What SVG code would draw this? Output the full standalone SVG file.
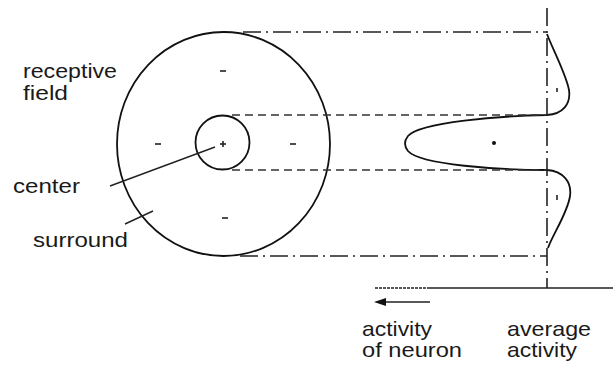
<svg xmlns="http://www.w3.org/2000/svg" width="613" height="365" viewBox="0 0 613 365">
<style>
.t{font-family:"Liberation Sans",Arial,sans-serif;font-size:21px;fill:#1a1a1a}
.s{fill:none;stroke:#111;stroke-width:1.8}
.th{fill:none;stroke:#222;stroke-width:1.4}
.dd{fill:none;stroke:#222;stroke-width:1.6;stroke-dasharray:18 5 2 5}
.da{fill:none;stroke:#333;stroke-width:1.6;stroke-dasharray:8 5}
.mk{stroke:#222;stroke-width:1.6}
</style>
<rect width="613" height="365" fill="#fff"/>
<g id="receptive-field">
<ellipse class="s" cx="223.5" cy="144" rx="106.5" ry="112"/>
<line class="mk" x1="220" y1="71" x2="226" y2="71"/>
<line class="mk" x1="155" y1="144" x2="161" y2="144"/>
<line class="mk" x1="290" y1="144" x2="296" y2="144"/>
<line class="mk" x1="222" y1="218" x2="228" y2="218"/>
</g>
<g id="center">
<circle class="s" cx="222.5" cy="142.5" r="27"/>
<line class="mk" x1="220" y1="144" x2="226" y2="144"/>
<line class="mk" x1="223" y1="141" x2="223" y2="147"/>
</g>
<g id="activity-curve">
<path class="s" d="M547,34 C553,50 566,74 569,90 C571,104 563,114 547,115 C500,116 420,122 408,136 C404,141 404,146 408,151 C420,165 500,170 547,170 C563,171 572,182 570,196 C568,212 552,236 548,248"/>
<circle cx="494" cy="143" r="2" fill="#111"/>
<line class="mk" x1="557" y1="88" x2="557" y2="92" stroke-width="1"/>
<line class="mk" x1="557" y1="195" x2="557" y2="200" stroke-width="1"/>
</g>
<g id="connectors">
<line class="dd" x1="243" y1="32" x2="547" y2="32"/>
<line class="dd" x1="240" y1="256" x2="547" y2="256"/>
<line class="da" x1="232" y1="115" x2="547" y2="115"/>
<line class="da" x1="232" y1="170" x2="547" y2="170"/>
<line class="dd" x1="547" y1="8" x2="547" y2="288" stroke-dasharray="14 4 3 4"/>
<line class="th" x1="375" y1="288" x2="430" y2="288" stroke="#888" stroke-dasharray="3 1"/>
<line class="th" x1="430" y1="288" x2="613" y2="288"/>
<line class="th" x1="430" y1="302" x2="383" y2="302"/>
<polygon points="374,302 386,298 386,306" fill="#111"/>
<line class="th" x1="215" y1="147" x2="110" y2="186"/>
<line class="th" x1="153" y1="211" x2="125" y2="224"/>
</g>
<g id="labels">
<text class="t" x="23" y="78" textLength="94" lengthAdjust="spacingAndGlyphs">receptive</text>
<text class="t" x="23" y="100" textLength="45" lengthAdjust="spacingAndGlyphs">field</text>
<text class="t" x="13" y="193" textLength="67" lengthAdjust="spacingAndGlyphs">center</text>
<text class="t" x="33" y="247" textLength="95" lengthAdjust="spacingAndGlyphs">surround</text>
<text class="t" x="362" y="336" textLength="70" lengthAdjust="spacingAndGlyphs">activity</text>
<text class="t" x="362" y="357" textLength="100" lengthAdjust="spacingAndGlyphs">of neuron</text>
<text class="t" x="507" y="336" textLength="84" lengthAdjust="spacingAndGlyphs">average</text>
<text class="t" x="507" y="357" textLength="70" lengthAdjust="spacingAndGlyphs">activity</text>
</g>
</svg>
